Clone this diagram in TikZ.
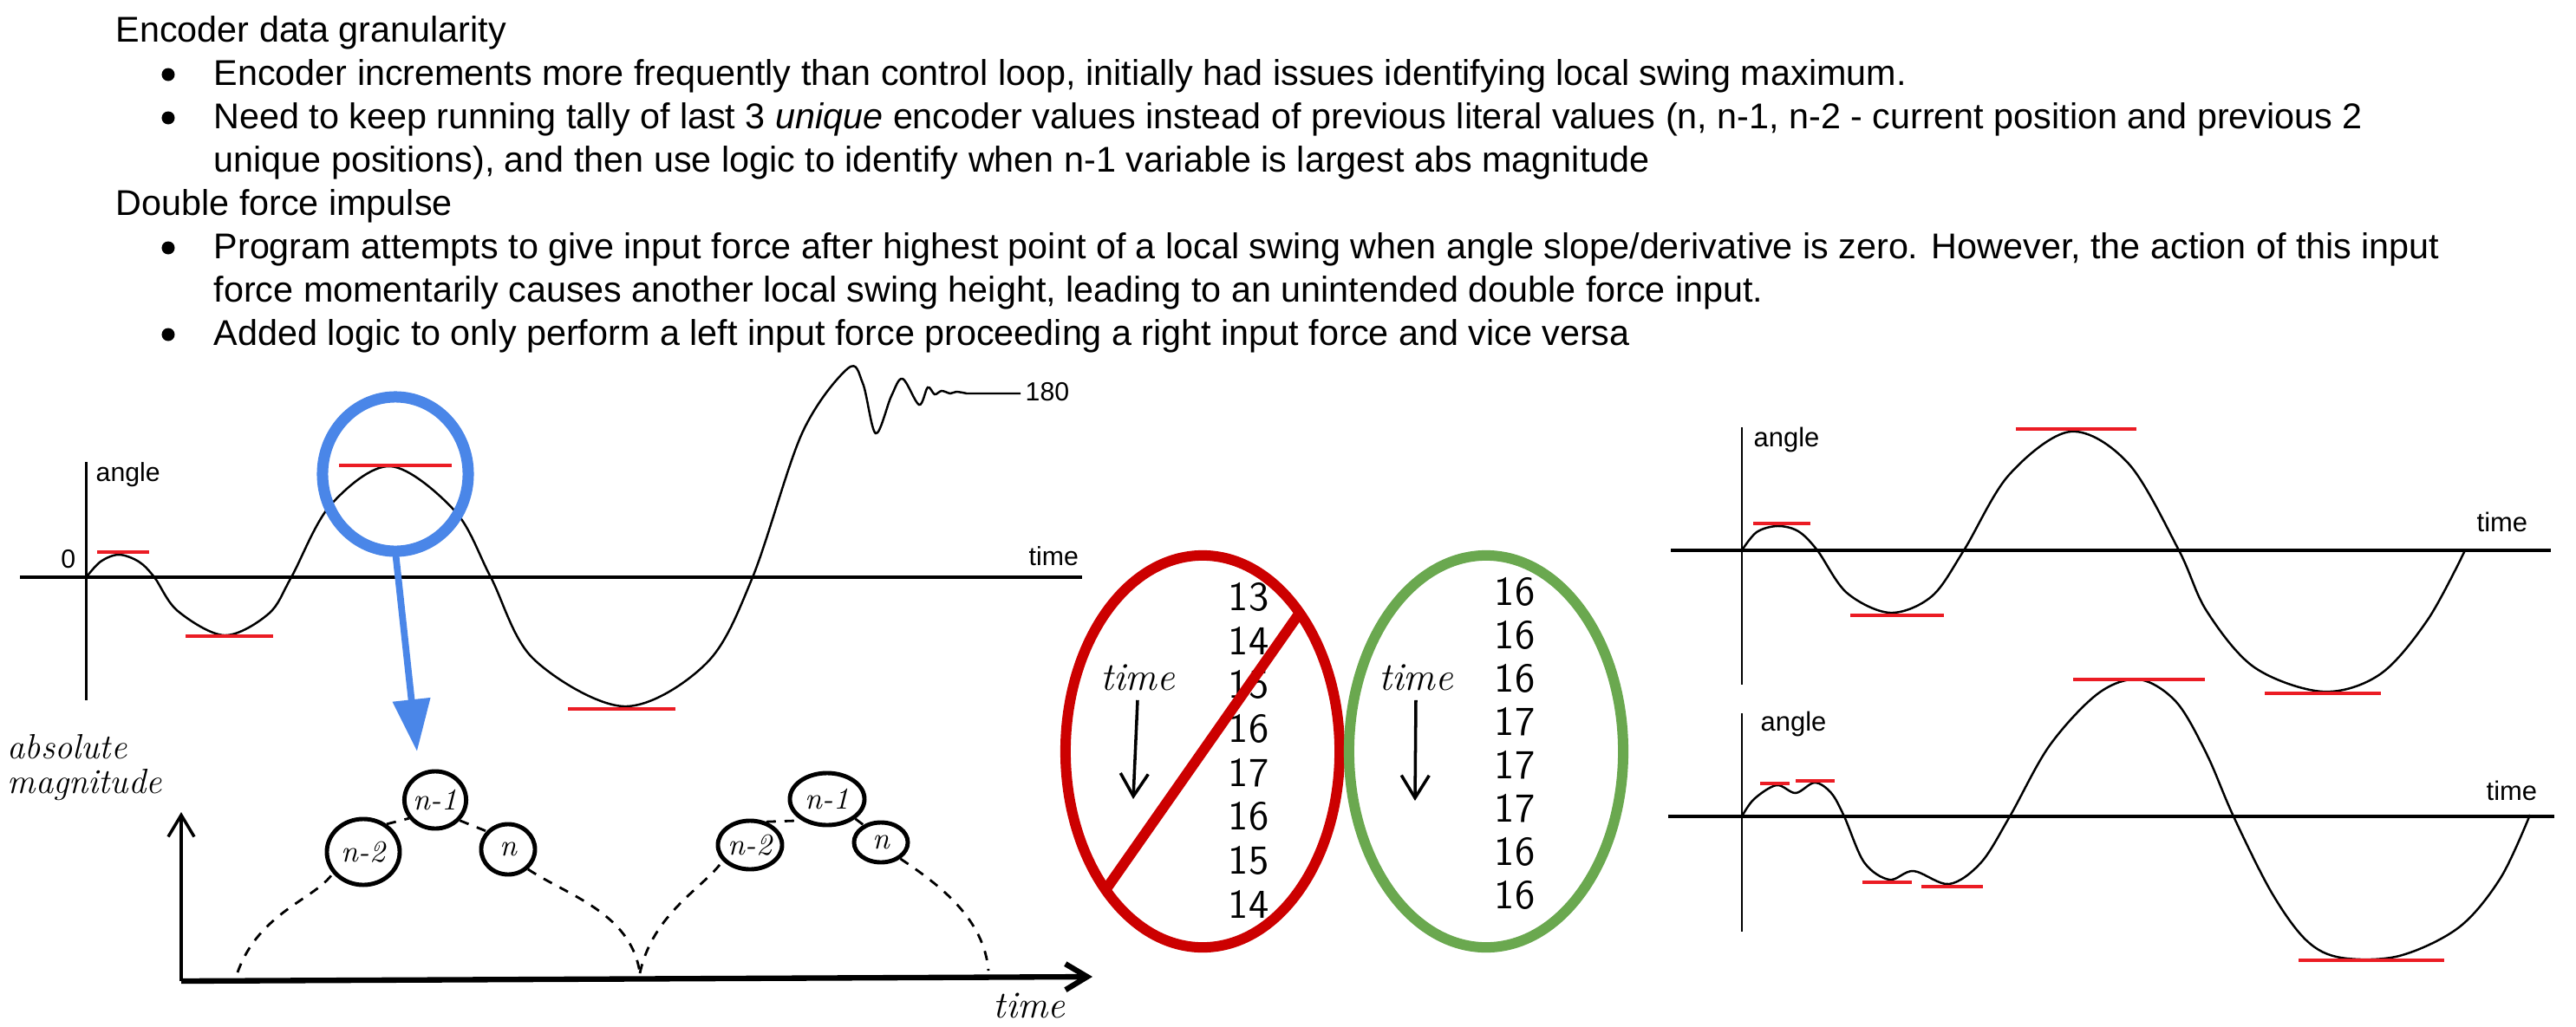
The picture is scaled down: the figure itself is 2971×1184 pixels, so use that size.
\documentclass[tikz,border=0pt]{standalone}
\usepackage{fontspec}
\newfontfamily\docfont{Liberation Sans}
\usetikzlibrary{arrows.meta, shapes.geometric}
\definecolor{markred}{RGB}{235,28,36}
\definecolor{zoomblue}{RGB}{74,134,232}
\definecolor{crossred}{RGB}{204,0,0}
\definecolor{okgreen}{RGB}{106,168,79}

\begin{document}
\begin{tikzpicture}[
        x=0.01cm, y=-0.01cm,
        body_text/.style={anchor=base west, inner sep=0, font=\docfont\fontsize{11.75pt}{13pt}\selectfont},
        bullet/.style={circle, fill=black, inner sep=0, minimum size=0.15cm},
        axis_label/.style={anchor=base west, inner sep=0, font=\docfont\fontsize{8.6pt}{10pt}\selectfont},
        axis_line/.style={line width=0.7pt},
        time_axis/.style={line width=1.2pt},
        curve/.style={line width=0.7pt},
        peak_mark/.style={draw=markred, line width=1.1pt},
        zoomring/.style={draw=zoomblue, ellipse, line width=0.13cm, minimum width=1.68cm, minimum height=1.78cm, inner sep=0, outer sep=0},
        zoomarrow/.style={draw=zoomblue, line width=2.2pt, -{Triangle[length=0.6cm, width=0.42cm]}},
        hand_label/.style={inner sep=0, font=\itshape\fontsize{11.5pt}{11.5pt}\selectfont},
        magcircle/.style={draw, ellipse, line width=1.4pt, inner sep=0, font=\itshape\fontsize{10pt}{10pt}\selectfont},
        arch/.style={line width=0.8pt, dash pattern=on 0.11cm off 0.1cm},
        handaxis/.style={line width=1pt, -{Straight Barb[length=0.25cm, width=0.3cm]}},
        handarrow/.style={line width=1pt, -{Straight Barb[length=0.26cm, width=0.32cm]}},
        tallyring/.style={ellipse, line width=0.12cm, minimum width=3.16cm, minimum height=4.52cm, inner sep=0, outer sep=0},
        num/.style={inner sep=0, font=\sffamily\fontsize{13.5pt}{13.5pt}\selectfont}
    ]
    \useasboundingbox (0,0) rectangle (2971,1184);

    \node[body_text] (granhead) at (133,48) {Encoder data granularity};
    \node[bullet] (dotA) at (194,86) {};
    \node[body_text] (granitemA) at (246,98) {Encoder increments more frequently than control loop, initially had issues identifying local swing maximum.};
    \node[bullet] (dotB) at (194,136) {};
    \node[body_text] (granitemB) at (246,148) {Need to keep running tally of last 3 \textit{unique} encoder values instead of previous literal values (n, n-1, n-2 - current position and previous 2};
    \node[body_text] (granitemBcont) at (246,198) {unique positions), and then use logic to identify when n-1 variable is largest abs magnitude};
    \node[body_text] (forcehead) at (133,248) {Double force impulse};
    \node[bullet] (dotC) at (194,286) {};
    \node[body_text] (forceitemA) at (246,298) {Program attempts to give input force after highest point of a local swing when angle slope/derivative is zero. However, the action of this input};
    \node[body_text] (forceitemAcont) at (246,348) {force momentarily causes another local swing height, leading to an unintended double force input.};
    \node[bullet] (dotD) at (194,386) {};
    \node[body_text] (forceitemB) at (246,398) {Added logic to only perform a left input force proceeding a right input force and vice versa};

    % swing graph
    \draw[time_axis] (23,666) -- (1248,666);
    \draw[axis_line] (99.5,533) -- (99.5,808);
    \node[axis_label] (swingangle) at (110,555) {angle};
    \node[axis_label, anchor=base east] (swingzero) at (88,655) {0};
    \node[axis_label] (swingtime) at (1186,652) {time};
    \node[axis_label] (swingtop) at (1182,462) {180};
    \draw[curve] plot[smooth, tension=0.55] coordinates {(99.5,666) (116,648) (137,640) (160,648) (178,666) (205,705) (259,733) (310,708) (336,666) (381,583) (450,538) (525,590) (566,666) (615,760) (720,815) (815,765) (868,666) (925,500) (978,425) (995,442) (1010,500) (1028,457) (1041,437) (1060,467) (1070,447) (1078,455) (1086,451) (1096,454) (1103,452) (1115,454)} -- (1177,454);
    \draw[peak_mark] (112,637) -- (172,637);
    \draw[peak_mark] (214,734) -- (315,734);
    \draw[peak_mark] (391,537) -- (521,537);
    \draw[peak_mark] (655,818) -- (779,818);

    \node[zoomring] (peakring) at (456,547) {};
    \coordinate (zoomtip) at (481,867);
    \draw[zoomarrow] (peakring.south) -- (zoomtip);

    % magnitude sketch
    \node[hand_label, anchor=west] (abslabel) at (8,862) {absolute};
    \node[hand_label, anchor=west] (maglabel) at (8,906) {magnitude};
    \node[hand_label, font=\itshape\fontsize{12.5pt}{12.5pt}\selectfont] (magtime) at (1187,1160) {time};
    \coordinate (magorigin) at (209,1132);
    \coordinate (magtop) at (209,937);
    \coordinate (magend) at (1260,1127);
    \draw[handaxis] (magorigin) -- (magtop);
    \draw[handaxis, line width=1.8pt] (magorigin) -- (magend);

    \node[magcircle, minimum width=0.7cm, minimum height=0.66cm] (prevA) at (502,923) {n-1};
    \node[magcircle, minimum width=0.84cm, minimum height=0.76cm] (prevprevA) at (419,983) {n-2};
    \node[magcircle, minimum width=0.62cm, minimum height=0.58cm] (curA) at (586,980) {n};
    \node[magcircle, minimum width=0.86cm, minimum height=0.6cm] (prevB) at (954,922) {n-1};
    \node[magcircle, minimum width=0.74cm, minimum height=0.56cm] (prevprevB) at (865,975) {n-2};
    \node[magcircle, minimum width=0.62cm, minimum height=0.46cm] (curB) at (1016,972) {n};

    \coordinate (groundA) at (274,1122);
    \coordinate (groundB) at (738,1123);
    \coordinate (groundC) at (1140,1120);
    \draw[arch] (groundA) .. controls +(25,-70) and +(-20,30) .. (prevprevA.215);
    \draw[arch] (prevprevA.50) -- (prevA.215);
    \draw[arch] (prevA.-40) -- (curA.140);
    \draw[arch] (curA.-45) .. controls +(45,30) and +(-10,-70) .. (groundB);
    \draw[arch] (groundB) .. controls +(15,-70) and +(-20,30) .. (prevprevB.210);
    \draw[arch] (prevprevB.55) -- (prevB.220);
    \draw[arch] (prevB.-35) -- (curB.135);
    \draw[arch] (curB.-40) .. controls +(45,30) and +(-5,-60) .. (groundC);

    % encoder tallies
    \node[tallyring, draw=crossred] (badring) at (1387,867) {};
    \node[tallyring, draw=okgreen] (goodring) at (1714,867) {};
    \foreach \v [count=\i] in {13,14,15,16,17,16,15,14}
        \node[num] (bad\i) at (1440,{689+50.6*(\i-1)}) {\v};
    \foreach \v [count=\i] in {16,16,16,17,17,17,16,16}
        \node[num] (good\i) at (1747,{683+50*(\i-1)}) {\v};
    \draw[crossred, line width=0.12cm] (badring.235) -- (badring.55);

    \node[hand_label, font=\itshape\fontsize{13pt}{13pt}\selectfont] (badtime) at (1312,782) {time};
    \coordinate (badtimeend) at (1307,922);
    \draw[handarrow] ([yshift=-0.1cm]badtime.south) -- (badtimeend);
    \node[hand_label, font=\itshape\fontsize{13pt}{13pt}\selectfont] (goodtime) at (1633,782) {time};
    \coordinate (goodtimeend) at (1632,924);
    \draw[handarrow] ([yshift=-0.1cm]goodtime.south) -- (goodtimeend);

    % single input
    \draw[time_axis] (1927,635) -- (2942,635);
    \draw[axis_line] (2009,493) -- (2009,790);
    \node[axis_label, font=\docfont\fontsize{8.8pt}{10pt}\selectfont] (singleangle) at (2022,515) {angle};
    \node[axis_label, font=\docfont\fontsize{8.8pt}{10pt}\selectfont] (singletime) at (2856,613) {time};
    \draw[curve] plot[smooth, tension=0.55] coordinates {(2009,635) (2026,614) (2050,607) (2074,613) (2096,635) (2130,684) (2180,707) (2228,688) (2265,635) (2317,548) (2388,498) (2455,535) (2513,635) (2545,705) (2600,770) (2679,798) (2745,778) (2800,715) (2843,635)};
    \draw[peak_mark] (2022,604) -- (2088,604);
    \draw[peak_mark] (2134,710) -- (2242,710);
    \draw[peak_mark] (2325,495) -- (2464,495);
    \draw[peak_mark] (2612,800) -- (2746,800);

    % double input
    \draw[time_axis] (1924,942) -- (2946,942);
    \draw[axis_line] (2009,823) -- (2009,1075);
    \node[axis_label, font=\docfont\fontsize{8.8pt}{10pt}\selectfont] (doubleangle) at (2030,843) {angle};
    \node[axis_label, font=\docfont\fontsize{8.8pt}{10pt}\selectfont] (doubletime) at (2867,923) {time};
    \draw[curve] plot[smooth, tension=0.55] coordinates {(2009,942) (2023,922) (2049,906) (2071,915) (2093,903) (2112,915) (2127,942) (2150,995) (2179,1015) (2207,1005) (2248,1020) (2285,995) (2318,942) (2364,860) (2420,800) (2467,784) (2510,810) (2545,870) (2576,942) (2620,1030) (2660,1085) (2700,1105) (2767,1103) (2836,1070) (2884,1013) (2918,940)};
    \draw[peak_mark] (2030,904) -- (2064,904);
    \draw[peak_mark] (2071,901) -- (2116,901);
    \draw[peak_mark] (2148,1018) -- (2205,1018);
    \draw[peak_mark] (2216,1023) -- (2287,1023);
    \draw[peak_mark] (2391,784) -- (2543,784);
    \draw[peak_mark] (2651,1108) -- (2819,1108);
\end{tikzpicture}
\end{document}
